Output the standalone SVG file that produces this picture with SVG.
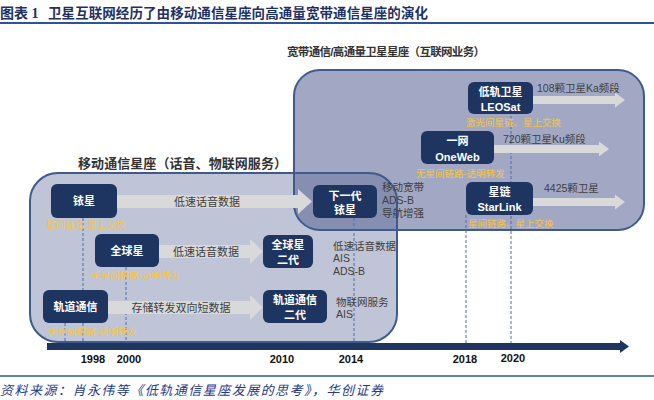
<svg xmlns="http://www.w3.org/2000/svg" width="654" height="400" viewBox="0 0 654 400">
<style>
text{font-family:"Liberation Sans","Noto Sans CJK SC",sans-serif}
.node{fill:#1f3561}
.nt{fill:#fff;font-weight:bold;font-size:11px;text-anchor:middle}
.lbl{fill:#404040;font-size:10.5px}
.alab{fill:#404040;font-size:11px;text-anchor:middle}
.yel{fill:#f5c542;font-size:9.5px;font-family:"Noto Sans CJK SC",sans-serif}
.yr{fill:#111;font-weight:bold;font-size:11px;text-anchor:middle}
.dash{stroke:#4a6cb0;stroke-width:1;stroke-dasharray:3,2;fill:none}
.garrow{fill:#d9d9d9}
.ttl{fill:#333;font-weight:bold}
</style>
<rect width="654" height="400" fill="#fff"/>
<!-- header -->
<g id="header">
<text x="0" y="18" font-size="14" font-weight="bold" fill="#1f3162" style="font-family:'Liberation Serif','Noto Sans CJK SC',serif">图表 1</text>
<text x="48" y="18" font-size="13.5" font-weight="bold" fill="#1f3162" textLength="380" style="font-family:'Noto Sans CJK SC',sans-serif">卫星互联网经历了由移动通信星座向高通量宽带通信星座的演化</text>
<line x1="0" y1="23" x2="654" y2="23" stroke="#2f5496" stroke-width="2"/>
</g>
<!-- frames -->
<g id="frames">
<rect x="30" y="173" width="367" height="169" rx="28" fill="#5a6496" fill-opacity="0.38"/>
<rect x="294" y="70" width="350" height="160" rx="26" fill="#5a6496" fill-opacity="0.56"/>
<rect x="30" y="173" width="367" height="169" rx="28" fill="none" stroke="#3e5b8c" stroke-width="2"/>
<rect x="294" y="70" width="350" height="160" rx="26" fill="none" stroke="#3e5b8c" stroke-width="2"/>
<text class="ttl" x="287" y="56" font-size="11.5" textLength="198">宽带通信/高通量卫星星座（互联网业务）</text>
<text class="ttl" x="78" y="168" font-size="13" textLength="209">移动通信星座（话音、物联网服务）</text>
</g>
<!-- timeline dashed guides -->
<g id="guides">
<line class="dash" x1="65" y1="323" x2="65" y2="344"/>
<line class="dash" x1="83" y1="218" x2="83" y2="344"/>
<line class="dash" x1="126" y1="267" x2="126" y2="344"/>
<line class="dash" x1="354" y1="218" x2="354" y2="344"/>
<line class="dash" x1="466" y1="215" x2="466" y2="344"/>
<line class="dash" x1="511" y1="116" x2="511" y2="344"/>
</g>
<!-- connectors -->
<g id="connectors">
<polygon class="garrow" points="117,195 298,195 298,189 312,201.5 298,214 298,208 117,208"/>
<polygon class="garrow" points="159,245 250,245 250,239 263,251.5 250,264 250,258 159,258"/>
<polygon class="garrow" points="108,301 250,301 250,295 263,307.5 250,320 250,314 108,314"/>
<polygon class="garrow" points="533,96 615,96 615,92.5 625,100 615,107.5 615,104 533,104"/>
<polygon class="garrow" points="494,145 599,145 599,141.5 609,149 599,156.5 599,153 494,153"/>
<polygon class="garrow" points="533,198 615,198 615,194.5 625,202 615,209.5 615,206 533,206"/>
<text class="alab" x="207" y="206">低速话音数据</text>
<text class="alab" x="206" y="255.5">低速话音数据</text>
<text class="alab" x="181" y="312">存储转发双向短数据</text>
</g>
<!-- nodes -->
<g id="iridium">
<rect class="node" x="51" y="184" width="66" height="34" rx="6"/>
<text class="nt" x="84" y="205">铱星</text>
<text class="yel" x="46" y="228">星间链路-星上交换</text>
</g>
<g id="globalstar">
<rect class="node" x="95" y="234" width="64" height="33" rx="6"/>
<text class="nt" x="127" y="254.5">全球星</text>
<text class="yel" x="91" y="278.5">无星间链路-透明转发</text>
</g>
<g id="orbcomm">
<rect class="node" x="43" y="290" width="65" height="33" rx="6"/>
<text class="nt" x="75.5" y="310.5">轨道通信</text>
<text class="yel" x="48" y="334.5">无星间链路-透明转发</text>
</g>
<g id="globalstar2">
<rect class="node" x="263" y="235" width="50" height="33" rx="6"/>
<text class="nt" x="288" y="249">全球星</text>
<text class="nt" x="288" y="264">二代</text>
<text class="lbl" x="333" y="249.5">低速话音数据</text>
<text class="lbl" x="333" y="262">AIS</text>
<text class="lbl" x="333" y="274.5">ADS-B</text>
</g>
<g id="orbcomm2">
<rect class="node" x="263" y="290" width="64" height="33" rx="6"/>
<text class="nt" x="295" y="304">轨道通信</text>
<text class="nt" x="295" y="319">二代</text>
<text class="lbl" x="336" y="305.5">物联网服务</text>
<text class="lbl" x="336" y="318">AIS</text>
</g>
<g id="iridiumNext">
<rect class="node" x="313" y="185" width="64" height="33" rx="6"/>
<text class="nt" x="345" y="199.5">下一代</text>
<text class="nt" x="345" y="214">铱星</text>
<text class="lbl" x="382" y="191">移动宽带</text>
<text class="lbl" x="382" y="203.5">ADS-B</text>
<text class="lbl" x="382" y="216.5">导航增强</text>
</g>
<g id="leosat">
<rect class="node" x="468" y="82" width="65" height="32" rx="6"/>
<text class="nt" x="500.5" y="96">低轨卫星</text>
<text class="nt" x="500.5" y="110.5">LEOSat</text>
<text class="lbl" x="537" y="92">108颗卫星Ka频段</text>
<text class="yel" x="466" y="125.5">激光间星链、星上交换</text>
</g>
<g id="oneweb">
<rect class="node" x="421" y="131" width="73" height="33" rx="6"/>
<text class="nt" x="457.5" y="145">一网</text>
<text class="nt" x="457.5" y="160.5" font-size="11.5">OneWeb</text>
<text class="lbl" x="503" y="143">720颗卫星Ku频段</text>
<text class="yel" x="416" y="176.5">无星间链路-透明转发</text>
</g>
<g id="starlink">
<rect class="node" x="466" y="182" width="67" height="33" rx="6"/>
<text class="nt" x="499.5" y="196">星链</text>
<text class="nt" x="499.5" y="211">StarLink</text>
<text class="lbl" x="544" y="192">4425颗卫星</text>
<text class="yel" x="468" y="226.5">星间链路、星上交换</text>
</g>
<!-- axis -->
<g id="axis">
<rect x="47" y="343" width="574" height="7" fill="#1f3561"/>
<polygon points="620,340 629,346.5 620,353" fill="#1f3561"/>
<text class="yr" x="93" y="363">1998</text>
<text class="yr" x="129" y="363">2000</text>
<text class="yr" x="282" y="363">2010</text>
<text class="yr" x="351" y="363">2014</text>
<text class="yr" x="465" y="363">2018</text>
<text class="yr" x="513" y="362">2020</text>
</g>
<!-- footer -->
<g id="footer">
<line x1="0" y1="376" x2="654" y2="376" stroke="#2f5496" stroke-width="1.5"/>
<text x="0" y="395" font-size="13" font-style="italic" fill="#1f3a8a" textLength="383" style="font-family:'Noto Sans CJK SC',sans-serif">资料来源：肖永伟等《低轨通信星座发展的思考》，华创证券</text>
</g>
</svg>
